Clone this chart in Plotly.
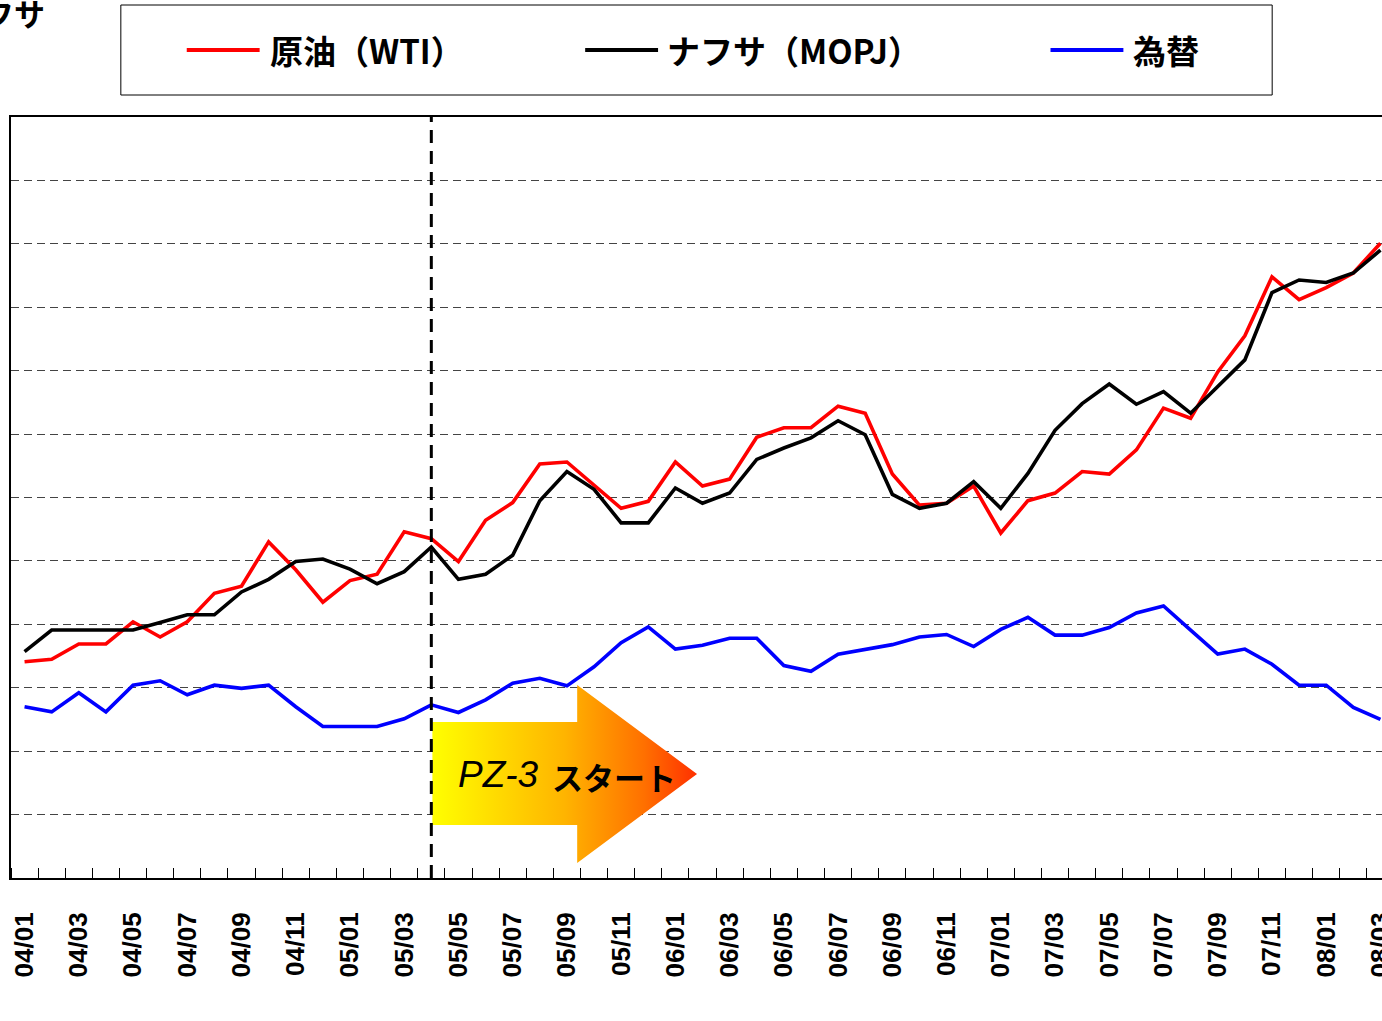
import plotly.graph_objects as go

# ---------------- data ----------------
months = ["04/01","04/02","04/03","04/04","04/05","04/06","04/07","04/08","04/09","04/10","04/11","04/12",
          "05/01","05/02","05/03","05/04","05/05","05/06","05/07","05/08","05/09","05/10","05/11","05/12",
          "06/01","06/02","06/03","06/04","06/05","06/06","06/07","06/08","06/09","06/10","06/11","06/12",
          "07/01","07/02","07/03","07/04","07/05","07/06","07/07","07/08","07/09","07/10","07/11","07/12",
          "08/01","08/02","08/03"]

crude_wti = [34.1, 34.5, 36.9, 36.9, 40.4, 38.0, 40.4, 44.9, 46.0, 53.0, 48.6, 43.5,
             46.9, 47.9, 54.6, 53.5, 49.9, 56.4, 59.2, 65.3, 65.6, 62.0, 58.3, 59.4,
             65.6, 61.8, 62.9, 69.5, 71.0, 71.0, 74.4, 73.3, 63.7, 58.8, 59.1, 61.8,
             54.4, 59.5, 60.7, 64.1, 63.7, 67.5, 74.1, 72.5, 79.8, 85.5, 94.8, 91.2,
             93.1, 95.4, 100.1]

naphtha_mopj = [35.7, 39.1, 39.1, 39.1, 39.1, 40.3, 41.5, 41.5, 45.1, 47.1, 49.9, 50.3,
                48.7, 46.4, 48.3, 52.2, 47.1, 47.9, 50.9, 59.5, 64.1, 61.3, 56.0, 56.0,
                61.5, 59.1, 60.7, 66.0, 67.8, 69.4, 72.1, 69.9, 60.5, 58.3, 59.1, 62.5,
                58.3, 63.8, 70.6, 74.8, 77.9, 74.7, 76.7, 73.3, 77.5, 81.7, 92.3, 94.3,
                93.9, 95.4, 99.0]

fx_rate = [27.0, 26.2, 29.2, 26.2, 30.4, 31.1, 28.9, 30.4, 29.9, 30.4, 27.0, 23.9,
           23.9, 23.9, 25.1, 27.3, 26.1, 28.1, 30.7, 31.5, 30.3, 33.3, 37.1, 39.6,
           36.1, 36.7, 37.8, 37.8, 33.5, 32.6, 35.3, 36.1, 36.8, 38.0, 38.4, 36.5,
           39.2, 41.1, 38.3, 38.3, 39.5, 41.8, 42.9, 39.1, 35.3, 36.1, 33.7, 30.4,
           30.4, 26.9, 25.0]

series_names = ["原油（WTI）", "ナフサ（MOPJ）", "為替"]
series_colors = ["#FF0000", "#000000", "#0000FF"]
series_values = [crude_wti, naphtha_mopj, fx_rate]

start_month = "05/04"
arrow_label_a = "PZ-3"
arrow_label_b = "スタート"
title_tail = "ナフサ"

# ---------------- layout helpers (pixel geometry) ----------------
W, H = 1396, 1021
PL, PR, PT, PB = 11, 1396, 117, 878
def X(px):
    return (px - PL) / (PR - PL)
def Y(py):
    return (PB - py) / (PB - PT)

idx = list(range(len(months)))
fig = go.Figure()

for name, vals, col in zip(series_names, series_values, series_colors):
    fig.add_trace(go.Scatter(x=idx, y=vals, mode="lines", name=name,
                             line=dict(color=col, width=3.6), showlegend=False))

# gradient arrow on an overlay axis in pixel units
arrow_x = [433, 578, 578, 698, 578, 578, 433, 433]
arrow_y = [722, 722, 685, 774, 863, 825, 825, 722]
fig.add_trace(go.Scatter(x=arrow_x, y=arrow_y, xaxis="x2", yaxis="y2", mode="lines",
                         fill="toself", line=dict(width=0, color="rgba(0,0,0,0)"),
                         fillgradient=dict(type="horizontal",
                                           colorscale=[[0, "#FFFF00"], [0.5, "#FFB400"],
                                                       [0.8, "#FF7000"], [1, "#FF3000"]]),
                         showlegend=False, hoverinfo="skip"))

tickvals = idx[::2]
ticktext = months[::2]

fig.update_layout(
    width=W, height=H,
    margin=dict(l=PL, r=W - PR, t=PT, b=H - PB, pad=0),
    plot_bgcolor="white", paper_bgcolor="white",
    showlegend=False,
    xaxis=dict(range=[-0.5, len(months) - 0.5], tickmode="array", tickvals=tickvals, ticktext=ticktext,
               tickangle=-90, tickfont=dict(family="Liberation Sans, Arial", size=26, color="black", weight="bold"),
               ticks="", showgrid=False, zeroline=False, showline=True, linecolor="black",
               linewidth=2, mirror=True, ticklabelstandoff=22,
               minor=dict(ticks="inside", tickmode="linear", tick0=0.5, dtick=1, ticklen=10,
                          tickwidth=1, tickcolor="black", showgrid=False)),
    yaxis=dict(range=[0, 120], dtick=10, tick0=0, showgrid=True, gridcolor="#444444", gridwidth=1,
               griddash="8px,5px", showticklabels=False, ticks="", zeroline=False,
               showline=True, linecolor="black", linewidth=2, mirror=True),
    xaxis2=dict(overlaying="x", range=[PL, PR], visible=False),
    yaxis2=dict(overlaying="y", range=[PB, PT], visible=False),
)

# vertical dashed line at start month
fig.add_shape(type="line", xref="x", yref="paper", x0=months.index(start_month),
              x1=months.index(start_month), y0=0, y1=1, layer="above",
              line=dict(color="black", width=3, dash="13px,8px"))

# legend box (manual)
fig.add_shape(type="rect", xref="paper", yref="paper", x0=X(121), x1=X(1274), y0=Y(95), y1=Y(5),
              line=dict(color="black", width=1), fillcolor="rgba(0,0,0,0)")
leg_line_x = [187, 586, 1052]
leg_text_x = [268, 666, 1133]
for lx, tx, name, col in zip(leg_line_x, leg_text_x, series_names, series_colors):
    fig.add_shape(type="line", xref="paper", yref="paper", x0=X(lx), x1=X(lx + 73), y0=Y(50), y1=Y(50),
                  line=dict(color=col, width=4))
    fig.add_annotation(text=name, xref="paper", yref="paper", x=X(tx), y=Y(50), xanchor="left",
                       yanchor="middle", showarrow=False,
                       font=dict(family="Noto Sans CJK JP", size=33, color="black", weight="bold"))

# arrow text
fig.add_annotation(text="<i>" + arrow_label_a + "</i>", xref="paper", yref="paper", x=X(499), y=Y(774),
                   xanchor="center", yanchor="middle", showarrow=False,
                   font=dict(family="Liberation Sans, Arial", size=37, color="black"))
fig.add_annotation(text=arrow_label_b, xref="paper", yref="paper", x=X(615), y=Y(776),
                   xanchor="center", yanchor="middle", showarrow=False,
                   font=dict(family="Noto Sans CJK JP", size=31, color="black", weight="bold"))

# cut-off title at top-left
fig.add_annotation(text=title_tail, xref="paper", yref="paper", x=X(47), y=Y(12),
                   xanchor="right", yanchor="middle", showarrow=False,
                   font=dict(family="Noto Sans CJK JP", size=31, color="black", weight="bold"))

fig.write_html("out.html", config={"displayModeBar": False},
               post_script="document.body.style.margin='0';document.body.style.overflow='hidden';")
